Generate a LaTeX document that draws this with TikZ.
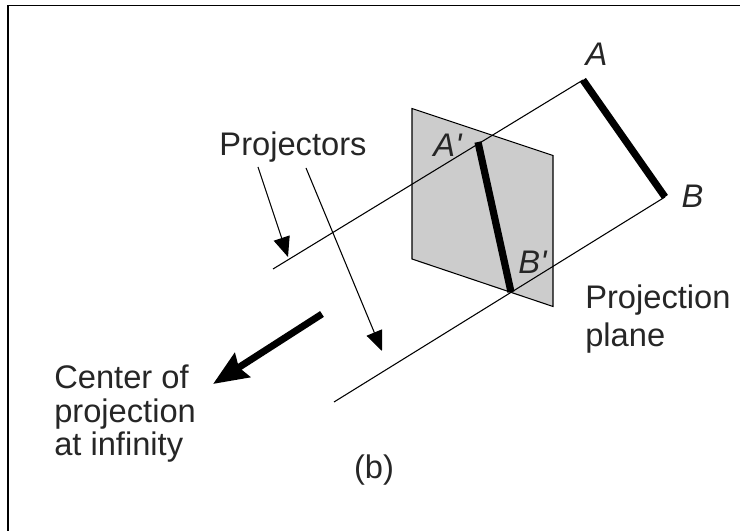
\documentclass[tikz,border=0pt]{standalone}
\usepackage{fontspec}
\setmainfont{Liberation Sans}
\newfontfamily\ptfont{Liberation Sans}
\usetikzlibrary{positioning, arrows.meta, calc}

\begin{document}
\begin{tikzpicture}[
		x=0.75pt, y=-0.75pt,
		>=Stealth,
		% Thin projector lines
		projline/.style={draw=black, line width=0.8pt},
		% Heavy line segments
		seg/.style={draw=black, line width=5.4pt},
		% Leader arrows
		leader/.style={-{Stealth[inset=0pt, length=15pt, width=12.5pt]}, draw=black, line width=0.8pt},
		% Text labels
		lab/.style={font=\fontsize{24.5pt}{25pt}\selectfont, text=black!85, inner sep=0pt, align=left},
		ptlab/.style={lab, font=\fontsize{24.5pt}{25pt}\selectfont\ptfont\itshape}
	]

	% Page frame
	\useasboundingbox (0,0) rectangle (740,531);
	\draw[line width=1.1pt] (8,5.5) -- (740,5.5);
	\draw[line width=1.1pt] (8,5.5) -- (8,531);

	% Projection plane
	\coordinate (pa) at (412,108.5);
	\coordinate (pb) at (553,155.5);
	\coordinate (pc) at (553,306.5);
	\coordinate (pd) at (412,259);
	\draw[projline, fill=black!20] (pa) -- (pb) -- (pc) -- (pd) -- cycle;

	% Object and image end points
	\coordinate (a) at (583,80);
	\coordinate (b) at (665,197);
	\coordinate (ai) at (478,142);
	\coordinate (bi) at (511,292);
	\coordinate (ta) at (273,269);
	\coordinate (tb) at (334,402);

	% Projectors
	\draw[projline] (a) -- (ta);
	\draw[projline] (b) -- (tb);

	% Heavy segments
	\draw[seg] (a) -- (b);
	\draw[seg] (ai) -- (bi);

	% Labels
	\node[ptlab] (la) at (596.5,54) {A};
	\node[ptlab] (lb) at (692.5,196.5) {B};
	\node[ptlab] (lai) at (447.5,145) {A'};
	\node[ptlab] (lbi) at (532.5,262.5) {B'};
	\node[lab] (proj) at (293,147) {Projectors};
	\node[lab, anchor=north west] (plane) at (585,285) {Projection\\[3pt]plane};
	\node[lab, anchor=north west] (center) at (54,365) {Center of\\projection\\at infinity};
	\node[lab] (cap) at (374,470) {(b)};

	% Leader arrows
	\coordinate (la1) at (258,167);
	\coordinate (la2) at (288,257);
	\coordinate (lb1) at (306,168);
	\coordinate (lb2) at (382,351);
	\draw[leader] (la1) -- (la2);
	\draw[leader] (lb1) -- (lb2);

	% Direction to center of projection
	\coordinate (d1) at (322,314);
	\coordinate (d2) at (213,384);
	\draw[-{Stealth[inset=3pt, length=26pt, width=21pt]}, line width=5.2pt] (d1) -- (d2);

\end{tikzpicture}
\end{document}
